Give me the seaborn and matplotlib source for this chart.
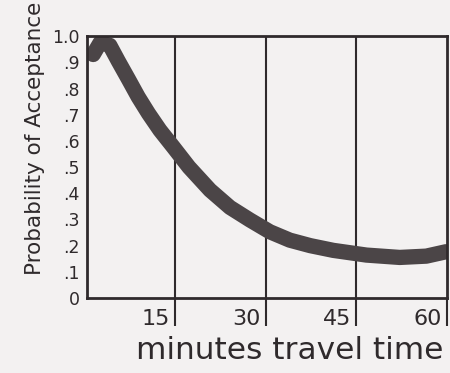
import numpy as np
import pandas as pd
import matplotlib
matplotlib.use("Agg")
import matplotlib.pyplot as plt
import seaborn as sns

# travel time (minutes) vs probability of acceptance
minutes = [1.45, 2.6, 4.2, 5.6, 7.3, 8.9, 10.6, 12.5, 14.7, 17.3, 20.8, 24.1,
           27.4, 30.7, 34.0, 37.4, 41.2, 46.7, 52.2, 56.6, 59.9]
probability = [0.93, 0.975, 0.965, 0.905, 0.835, 0.768, 0.705, 0.641, 0.577, 0.5,
               0.412, 0.346, 0.298, 0.253, 0.221, 0.2, 0.182, 0.164, 0.155, 0.16, 0.177]

x_ticks = [15, 30, 45, 60]
x_tick_labels = ["15", "30", "45", "60"]
y_ticks = [0, .1, .2, .3, .4, .5, .6, .7, .8, .9, 1.0]
y_tick_labels = ["0", ".1", ".2", ".3", ".4", ".5", ".6", ".7", ".8", ".9", "1.0"]

df = pd.DataFrame({"minutes": minutes, "probability": probability})

sns.set_theme(style="white")
plt.rcParams["font.family"] = ["DejaVu Sans"]
ink = "#2f2a2c"
bg = "#f3f1f1"

fig = plt.figure(figsize=(4.5, 3.73), dpi=100, facecolor=bg)
ax = fig.add_axes([0.193, 0.201, 0.800, 0.702])
ax.set_facecolor(bg)

sns.lineplot(data=df, x="minutes", y="probability", ax=ax, color="#4b4547",
             linewidth=11, solid_capstyle="round", solid_joinstyle="round",
             sort=False)

ax.set_xlim(0.4, 60)
ax.set_ylim(0, 1.0)

for x in x_ticks[:-1]:
    ax.axvline(x, color=ink, linewidth=1.5, zorder=0)

for side in ax.spines.values():
    side.set_color(ink)
    side.set_linewidth(2)

# x ticks: lines run below the axis, labels sit to the left of each line
ax.set_xticks(x_ticks)
ax.set_xticklabels([])
ax.tick_params(axis="x", direction="out", length=20, width=1.5, color=ink, bottom=True)
for x, lab in zip(x_ticks, x_tick_labels):
    ax.text(x - 0.8, -0.04, lab, transform=ax.get_xaxis_transform(),
            ha="right", va="top", fontsize=16, color=ink)

ax.set_yticks(y_ticks)
ax.set_yticklabels(y_tick_labels, fontsize=12.5, color=ink)
ax.tick_params(axis="y", length=0, pad=5)

ax.set_xlabel("minutes travel time", fontsize=22.5, color=ink)
ax.xaxis.set_label_coords(0.564, -0.145)
ax.set_ylabel("Probability of Acceptance", fontsize=15.5, color=ink)
ax.yaxis.set_label_coords(-0.115, 0.61)

fig.savefig("out.png", dpi=100, facecolor=bg)
